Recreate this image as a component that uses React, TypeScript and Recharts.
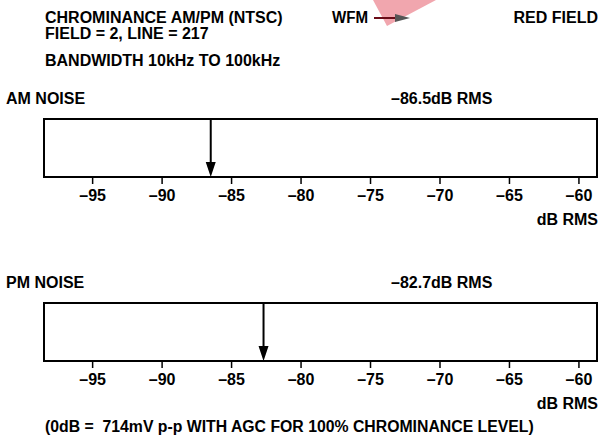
import React from "react";
import { LineChart, Line, XAxis, YAxis, ReferenceArea, ReferenceLine } from "recharts";

const xTicks = [-95, -90, -85, -80, -75, -70, -65, -60];
const xDomain: [number, number] = [-98.5, -58.7];
const panelTitles = ["AM NOISE", "PM NOISE"];
const noiseValues = [-86.5, -82.7];
const noiseLabels = ["–86.5dB RMS", "–82.7dB RMS"];
const unitLabel = "dB RMS";
const headerLines = ["CHROMINANCE AM/PM (NTSC)", "FIELD = 2, LINE = 217", "BANDWIDTH 10kHz TO 100kHz"];
const footerText = "(0dB =  714mV p-p WITH AGC FOR 100% CHROMINANCE LEVEL)";

const FONT = "'Liberation Sans', Arial, Helvetica, sans-serif";

const ArrowLine = (props: any) => {
  const { x1, y1, x2, y2 } = props;
  const top = Math.min(y1, y2);
  const bottom = Math.max(y1, y2);
  const headH = 15;
  const headW = 5;
  return (
    <g>
      <line x1={x1} y1={top} x2={x2} y2={bottom - headH + 1} stroke="#000" strokeWidth={2} />
      <polygon
        points={`${x2 - headW},${bottom - headH} ${x2 + headW},${bottom - headH} ${x2},${bottom}`}
        fill="#000"
      />
    </g>
  );
};

const Panel = ({ value, top }: { value: number; top: number }) => (
  <div style={{ position: "absolute", left: 0, top }}>
    <LineChart
      width={600}
      height={93}
      data={[{ x: xDomain[0], y: 0 }, { x: value, y: 0.5 }, { x: xDomain[1], y: 1 }]}
      margin={{ top: 5, right: 3, bottom: 0, left: 44 }}
    >
      <XAxis
        dataKey="x"
        type="number"
        domain={xDomain}
        ticks={xTicks}
        allowDataOverflow
        interval={0}
        height={30}
        tickSize={7}
        tickMargin={6}
        tickFormatter={(v: number) => `–${Math.abs(v)}`}
        tick={{ fill: "#000", fontSize: 16, fontWeight: "bold", fontFamily: FONT }}
        tickLine={{ stroke: "#000", strokeWidth: 1.5 }}
        axisLine={{ stroke: "#000", strokeWidth: 2 }}
      />
      <YAxis hide type="number" dataKey="y" domain={[0, 1]} allowDataOverflow />
      <Line dataKey="y" stroke="none" dot={false} activeDot={false} isAnimationActive={false} />
      <ReferenceArea
        x1={xDomain[0]}
        x2={xDomain[1]}
        y1={0}
        y2={1}
        fill="#fff"
        fillOpacity={0}
        stroke="#000"
        strokeWidth={2}
      />
      <ReferenceLine x={value} stroke="#000" shape={ArrowLine} />
    </LineChart>
  </div>
);

export default function App() {
  const txt = { fontFamily: FONT, fontWeight: "bold", fill: "#000" } as const;
  return (
    <div style={{ position: "absolute", left: 0, top: 0, width: 600, height: 439, background: "#fff" }}>
      <svg width={600} height={439} style={{ position: "absolute", left: 0, top: 0 }}>
        <polygon points="373,0 436,0 387,26" fill="#ef9ca5" opacity={0.9} />
        <text x={45} y={23} fontSize={16} {...txt}>{headerLines[0]}</text>
        <text x={45} y={39} fontSize={16} {...txt}>{headerLines[1]}</text>
        <text x={45} y={66} fontSize={16} {...txt}>{headerLines[2]}</text>
        <text x={332} y={23} fontSize={16} {...txt} textLength={36} lengthAdjust="spacingAndGlyphs">WFM</text>
        <line x1={374} y1={18} x2={397} y2={18} stroke="#6b0d18" strokeWidth={2} />
        <polygon points="395,14 410,18 395,22" fill="#555" />
        <text x={598} y={23} fontSize={16} textAnchor="end" {...txt}>RED FIELD</text>

        <text x={6} y={104} fontSize={16} {...txt}>{panelTitles[0]}</text>
        <text x={391} y={104} fontSize={16} {...txt}>{noiseLabels[0]}</text>
        <text x={598} y={225} fontSize={16} textAnchor="end" {...txt}>{unitLabel}</text>

        <text x={6} y={288} fontSize={16} {...txt}>{panelTitles[1]}</text>
        <text x={391} y={288} fontSize={16} {...txt}>{noiseLabels[1]}</text>
        <text x={598} y={409} fontSize={16} textAnchor="end" {...txt}>{unitLabel}</text>

        <text x={45} y={432} fontSize={15.8} {...txt} style={{ whiteSpace: "pre" }}>{footerText}</text>
      </svg>
      <Panel value={noiseValues[0]} top={114} />
      <Panel value={noiseValues[1]} top={298} />
    </div>
  );
}
